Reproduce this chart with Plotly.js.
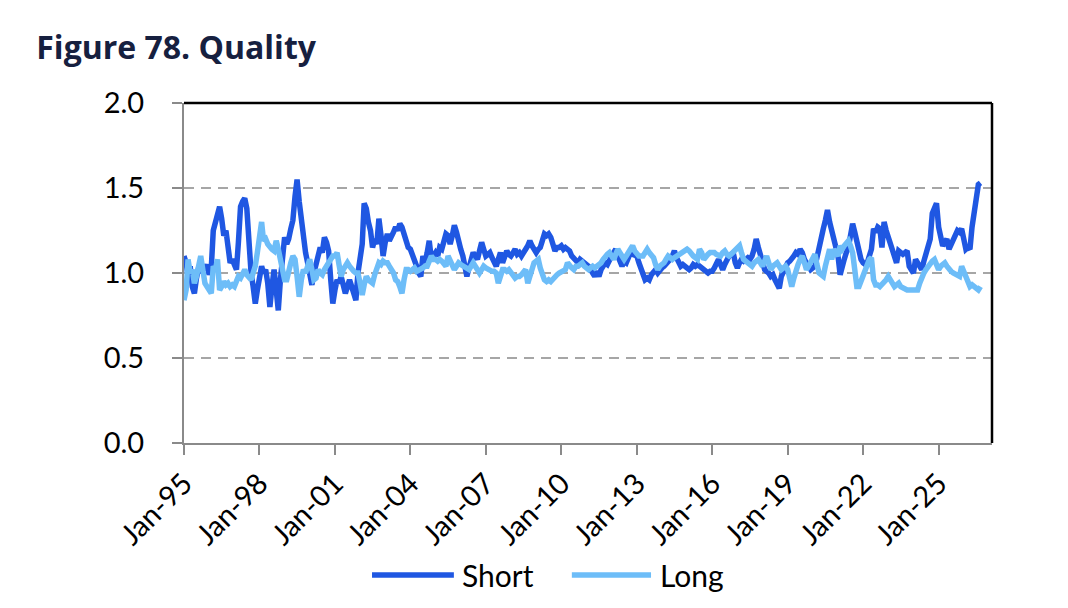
<!DOCTYPE html>
<html>
<head>
<meta charset="utf-8">
<script src="https://cdn.plot.ly/plotly-3.0.1.min.js"></script>
<style>
  html, body { margin: 0; padding: 0; background: #ffffff; }
  #chart { width: 1068px; height: 608px; }
</style>
</head>
<body>
<div id="chart"></div>
<script>
// ---- Data (monthly, starting Jan-1995) ----
const startYear = 1995;
const seriesNames = ['Short', 'Long'];
const shortValues = [
  1.10,1.06,0.98,1.04,0.92,0.88,0.97,1.03,1.00,1.04,1.02,1.05,
  0.99,1.03,1.25,1.30,1.35,1.39,1.32,1.22,1.25,1.12,1.06,1.08,
  1.05,1.02,1.18,1.39,1.42,1.44,1.38,1.12,1.00,0.92,0.82,0.90,
  0.98,1.04,1.00,1.02,0.94,0.80,0.92,1.02,0.90,0.78,0.96,1.12,
  1.21,1.17,1.20,1.26,1.31,1.45,1.55,1.42,1.30,1.21,1.12,1.06,
  1.00,0.93,1.00,1.05,1.10,1.15,1.12,1.21,1.18,1.13,0.96,0.82,
  0.90,0.96,0.94,0.98,0.93,0.88,0.92,0.96,0.92,0.88,0.84,1.00,
  1.08,1.17,1.41,1.38,1.30,1.25,1.15,1.20,1.17,1.32,1.22,1.10,
  1.18,1.23,1.19,1.21,1.24,1.27,1.25,1.29,1.27,1.23,1.19,1.15,
  1.14,1.11,1.08,1.04,1.00,0.98,1.10,1.06,1.12,1.19,1.08,1.10,
  1.12,1.10,1.15,1.14,1.20,1.23,1.22,1.17,1.22,1.28,1.24,1.17,
  1.14,1.10,1.04,0.98,1.03,1.08,1.12,1.10,1.08,1.13,1.18,1.14,
  1.10,1.11,1.12,1.09,1.06,1.04,1.08,1.12,1.06,1.10,1.13,1.11,
  1.10,1.12,1.14,1.11,1.12,1.10,1.13,1.14,1.16,1.19,1.16,1.13,
  1.12,1.14,1.15,1.19,1.23,1.22,1.23,1.21,1.16,1.13,1.15,1.15,
  1.16,1.14,1.15,1.14,1.13,1.10,1.09,1.08,1.06,1.08,1.07,1.06,
  1.05,1.04,1.02,1.00,0.98,1.01,0.98,1.02,1.04,1.06,1.05,1.08,
  1.10,1.12,1.14,1.10,1.06,1.04,1.07,1.06,1.09,1.12,1.11,1.10,
  1.10,1.06,1.02,0.99,0.96,0.97,0.96,0.99,1.01,1.02,1.00,1.02,
  1.03,1.04,1.05,1.07,1.08,1.10,1.13,1.09,1.06,1.04,1.05,1.04,
  1.03,1.02,1.03,1.05,1.04,1.05,1.04,1.03,1.02,1.01,1.00,1.01,
  1.01,1.03,1.06,1.08,1.05,1.02,1.05,1.08,1.10,1.11,1.12,1.06,
  1.03,1.06,1.08,1.07,1.08,1.09,1.08,1.10,1.14,1.20,1.15,1.10,
  1.06,1.02,1.01,1.00,0.98,0.99,0.96,0.94,0.91,0.98,1.01,1.04,
  1.06,1.07,1.08,1.10,1.12,1.11,1.14,1.12,1.08,1.06,1.04,1.02,
  1.03,1.04,1.09,1.16,1.20,1.26,1.31,1.37,1.30,1.25,1.21,1.13,
  1.10,0.99,1.05,1.08,1.12,1.15,1.22,1.29,1.24,1.19,1.11,1.08,
  1.06,1.05,1.06,1.10,1.14,1.26,1.24,1.27,1.26,1.15,1.30,1.25,
  1.21,1.17,1.13,1.10,1.06,1.13,1.12,1.11,1.12,1.13,1.04,1.02,
  1.00,1.08,1.06,1.04,1.02,1.07,1.12,1.16,1.20,1.35,1.39,1.41,
  1.27,1.20,1.16,1.18,1.20,1.14,1.17,1.20,1.22,1.25,1.24,1.26,
  1.20,1.14,1.15,1.14,1.27,1.34,1.41,1.52,1.53
];
const longValues = [
  0.84,0.90,1.08,1.00,1.02,0.94,0.98,1.04,1.10,1.02,0.94,0.92,
  0.90,0.88,1.04,1.02,1.08,0.90,0.92,0.95,0.93,0.94,0.92,0.93,
  0.92,0.95,0.98,0.97,1.00,1.02,0.99,0.97,0.96,1.00,1.04,1.12,
  1.22,1.30,1.19,1.20,1.17,1.15,1.14,1.13,1.19,1.14,1.08,1.00,
  0.96,0.96,1.02,1.06,1.10,1.08,0.98,0.86,0.96,1.02,1.00,1.03,
  1.08,1.02,0.96,0.97,1.02,1.00,0.99,1.02,1.05,1.06,1.08,1.10,
  1.10,1.12,1.05,0.98,1.02,1.04,1.06,1.04,1.02,1.01,1.00,1.00,
  0.94,0.87,0.93,0.98,0.96,0.95,0.94,0.99,1.04,1.06,1.05,1.07,
  1.06,1.06,1.04,1.02,1.00,0.96,0.95,0.92,0.88,0.96,1.02,1.02,
  1.01,1.02,1.03,1.01,1.02,1.02,1.03,1.04,1.04,1.07,1.10,1.08,
  1.08,1.07,1.08,1.07,1.06,1.04,1.10,1.07,1.04,1.02,1.04,1.06,
  1.05,1.04,1.03,1.02,1.02,1.04,1.06,1.04,1.02,1.00,1.02,1.04,
  1.03,1.02,1.02,1.01,1.01,1.00,0.94,0.98,1.02,1.02,1.01,1.02,
  1.00,0.98,0.97,0.98,0.98,0.99,1.01,1.02,0.94,0.98,1.03,1.06,
  1.07,1.08,1.03,0.98,0.96,0.95,0.96,0.95,0.96,0.98,0.99,1.00,
  1.01,1.01,1.02,1.06,1.04,1.03,1.02,1.04,1.04,1.05,1.06,1.04,
  1.03,1.02,1.03,1.04,1.03,1.04,1.04,1.06,1.08,1.10,1.11,1.12,
  1.10,1.08,1.11,1.14,1.12,1.10,1.08,1.10,1.12,1.14,1.16,1.13,
  1.11,1.10,1.10,1.10,1.12,1.14,1.12,1.10,1.09,1.05,1.02,1.04,
  1.05,1.06,1.08,1.10,1.09,1.08,1.09,1.10,1.10,1.11,1.12,1.13,
  1.14,1.13,1.11,1.10,1.09,1.08,1.14,1.12,1.08,1.10,1.11,1.12,
  1.12,1.12,1.11,1.10,1.10,1.12,1.13,1.11,1.10,1.11,1.12,1.13,
  1.14,1.16,1.12,1.08,1.07,1.06,1.05,1.04,1.06,1.07,1.08,1.06,
  1.04,1.07,1.10,1.06,1.02,1.04,1.05,1.06,1.04,1.02,1.03,1.04,
  1.02,0.98,0.92,0.97,1.02,1.05,1.08,1.10,1.06,1.02,1.04,1.06,
  1.08,1.11,1.05,1.00,0.99,0.98,1.04,1.08,1.14,1.08,1.14,1.12,
  1.10,1.16,1.14,1.16,1.18,1.19,1.16,1.12,1.02,0.92,0.92,0.95,
  0.98,1.02,1.06,1.08,1.09,0.96,0.93,0.93,0.92,0.93,0.94,0.96,
  0.98,0.96,0.94,0.92,0.93,0.94,0.92,0.91,0.90,0.90,0.90,0.90,
  0.90,0.90,0.90,0.94,0.98,1.00,1.02,1.04,1.06,1.07,1.08,1.05,
  1.02,1.04,1.05,1.06,1.04,1.02,1.01,1.00,0.99,0.98,0.98,1.04,
  1.01,0.98,0.95,0.92,0.93,0.92,0.91,0.90,0.92
];
const xTickVals = ['1995-01-01','1998-01-01','2001-01-01','2004-01-01','2007-01-01','2010-01-01','2013-01-01','2016-01-01','2019-01-01','2022-01-01','2025-01-01'];
const xTickText = ['Jan-95','Jan-98','Jan-01','Jan-04','Jan-07','Jan-10','Jan-13','Jan-16','Jan-19','Jan-22','Jan-25'];
const yTickVals = [0, 0.5, 1.0, 1.5, 2.0];
const yTickText = ['0.0', '0.5', '1.0', '1.5', '2.0'];

// month dates for the category axis
function monthDates(n) {
  const out = [];
  for (let i = 0; i < n; i++) {
    const y = startYear + Math.floor(i / 12);
    const m = (i % 12) + 1;
    out.push(y + '-' + (m < 10 ? '0' + m : m) + '-01');
  }
  return out;
}
const dates = monthDates(shortValues.length);

const colShort = '#1f57e2';
const colLong = '#6dbdf8';
const FONT = 'Lato, "Open Sans", sans-serif';

const traces = [
  { x: dates, y: shortValues, type: 'scatter', mode: 'lines', name: seriesNames[0],
    line: { color: colShort, width: 5.5 }, showlegend: false },
  { x: dates, y: longValues, type: 'scatter', mode: 'lines', name: seriesNames[1],
    line: { color: colLong, width: 5.5 }, showlegend: false }
];

const legY = -0.388;
const layout = {
  width: 1068, height: 608,
  margin: { l: 184, r: 76, t: 103, b: 165, pad: 0 },
  paper_bgcolor: '#ffffff', plot_bgcolor: '#ffffff',
  font: { family: FONT, color: '#000000', size: 29 },
  title: { text: '<b>Figure 78. Quality</b>', xref: 'container', yref: 'container',
    x: 0.034, xanchor: 'left', y: 0.922, yanchor: 'middle',
    font: { family: '"Open Sans", sans-serif', size: 32, color: '#16203f' } },
  xaxis: {
    type: 'date', range: ['1995-01-01', '2027-02-15'],
    tickvals: xTickVals, ticktext: xTickText, tickangle: -45,
    showgrid: false, zeroline: false,
    showline: true, linecolor: '#8a8a8a', linewidth: 2,
    ticks: 'outside', ticklen: 10, tickwidth: 2, tickcolor: '#8a8a8a',
    tickfont: { family: FONT, size: 29, color: '#000' }
  },
  yaxis: {
    range: [0, 2], tickvals: yTickVals, ticktext: yTickText,
    showgrid: true, gridcolor: '#a6a6a6', gridwidth: 2, griddash: '10px,7px',
    zeroline: false,
    showline: true, linecolor: '#8a8a8a', linewidth: 2,
    ticks: 'outside', ticklen: 10, tickwidth: 2, tickcolor: '#8a8a8a',
    ticklabelstandoff: 22,
    tickfont: { family: FONT, size: 29, color: '#000' }
  },
  shapes: [
    { type: 'line', xref: 'paper', yref: 'paper', x0: 0, x1: 1, y0: 1, y1: 1,
      line: { color: '#000000', width: 2.5 } },
    { type: 'line', xref: 'paper', yref: 'paper', x0: 1, x1: 1, y0: 0, y1: 1,
      line: { color: '#000000', width: 2.5 } },
    { type: 'line', xref: 'paper', yref: 'paper', x0: 0.2327, x1: 0.334, y0: legY, y1: legY,
      line: { color: colShort, width: 5.5 } },
    { type: 'line', xref: 'paper', yref: 'paper', x0: 0.480, x1: 0.578, y0: legY, y1: legY,
      line: { color: colLong, width: 5.5 } }
  ],
  annotations: [
    { xref: 'paper', yref: 'paper', x: 0.3416, y: legY, xanchor: 'left', yanchor: 'middle',
      text: seriesNames[0], showarrow: false, font: { family: FONT, size: 30, color: '#000' } },
    { xref: 'paper', yref: 'paper', x: 0.5866, y: legY, xanchor: 'left', yanchor: 'middle',
      text: seriesNames[1], showarrow: false, font: { family: FONT, size: 30, color: '#000' } }
  ]
};

Plotly.newPlot('chart', traces, layout, { staticPlot: true, displayModeBar: false });
</script>
</body>
</html>
